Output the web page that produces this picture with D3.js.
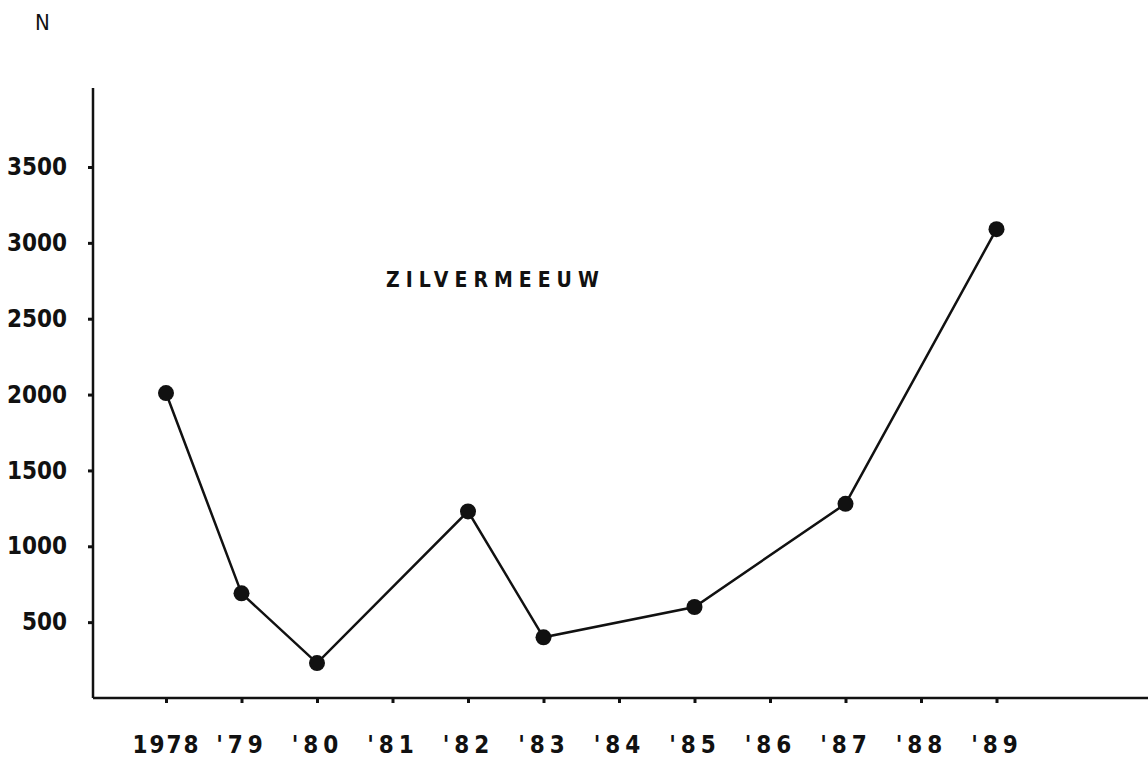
<!DOCTYPE html>
<html>
<head>
<meta charset="utf-8">
<script src="https://cdn.jsdelivr.net/npm/d3@7"></script>
<style>
  body { margin: 0; background: #fff; }
  text { font-family: "DejaVu Sans", sans-serif; font-stretch: condensed; font-weight: bold; fill: #111; }
</style>
</head>
<body>
<svg width="1148" height="758"></svg>
<script>
// data
var years = [1978, 1979, 1980, 1982, 1983, 1985, 1987, 1989];
var counts = [2010, 690, 230, 1230, 400, 600, 1280, 3090];
var tickYears = [1978, 1979, 1980, 1981, 1982, 1983, 1984, 1985, 1986, 1987, 1988, 1989];
var tickLabels = ["1978", "'79", "'80", "'81", "'82", "'83", "'84", "'85", "'86", "'87", "'88", "'89"];
var yTicks = [500, 1000, 1500, 2000, 2500, 3000, 3500];

var svg = d3.select("svg");
var ink = "#111";

var x = d3.scaleLinear([1978, 1989], [166, 996.5]);
var y = d3.scaleLinear([0, 3500], [698, 167]);

// y axis
var yAxis = svg.append("g")
  .attr("transform", "translate(93,0)")
  .call(d3.axisLeft(y).tickValues(yTicks).tickSize(5).tickPadding(21).tickFormat(d3.format("d")));
yAxis.select(".domain").remove();
yAxis.selectAll("line").attr("stroke", ink).attr("stroke-width", 3);
yAxis.selectAll("text").attr("font-size", 24).attr("font-family", null);
svg.append("line")
  .attr("x1", 93).attr("x2", 93).attr("y1", 88).attr("y2", y(0))
  .attr("stroke", ink).attr("stroke-width", 2.5);

// x axis
var xAxis = svg.append("g")
  .attr("transform", `translate(0,${y(0)})`)
  .call(d3.axisBottom(x).tickValues(tickYears).tickSize(5).tickPadding(33)
    .tickFormat(function (d, i) { return tickLabels[i]; }));
xAxis.select(".domain").remove();
xAxis.selectAll("line").attr("stroke", ink).attr("stroke-width", 3);
xAxis.selectAll("text").attr("font-size", 24).attr("font-family", null)
  .attr("letter-spacing", function (d, i) { return i === 0 ? 2 : 5; });
svg.append("line")
  .attr("x1", 93).attr("x2", 1148).attr("y1", y(0)).attr("y2", y(0))
  .attr("stroke", ink).attr("stroke-width", 2.5);

// series
var line = d3.line()
  .x(function (d, i) { return x(years[i]); })
  .y(function (d) { return y(d); });
svg.append("path")
  .datum(counts)
  .attr("d", line)
  .attr("fill", "none")
  .attr("stroke", ink)
  .attr("stroke-width", 2.5);

svg.selectAll("circle.pt")
  .data(counts)
  .enter().append("circle")
  .attr("class", "pt")
  .attr("cx", function (d, i) { return x(years[i]); })
  .attr("cy", function (d) { return y(d); })
  .attr("r", 8)
  .attr("fill", ink);

// labels
svg.append("text").attr("x", 35).attr("y", 30).attr("font-size", 22)
  .attr("font-weight", "normal").style("font-weight", "normal").text("N");
svg.append("text").attr("x", 386).attr("y", 287).attr("font-size", 21)
  .attr("letter-spacing", 6).text("ZILVERMEEUW");
</script>
</body>
</html>
